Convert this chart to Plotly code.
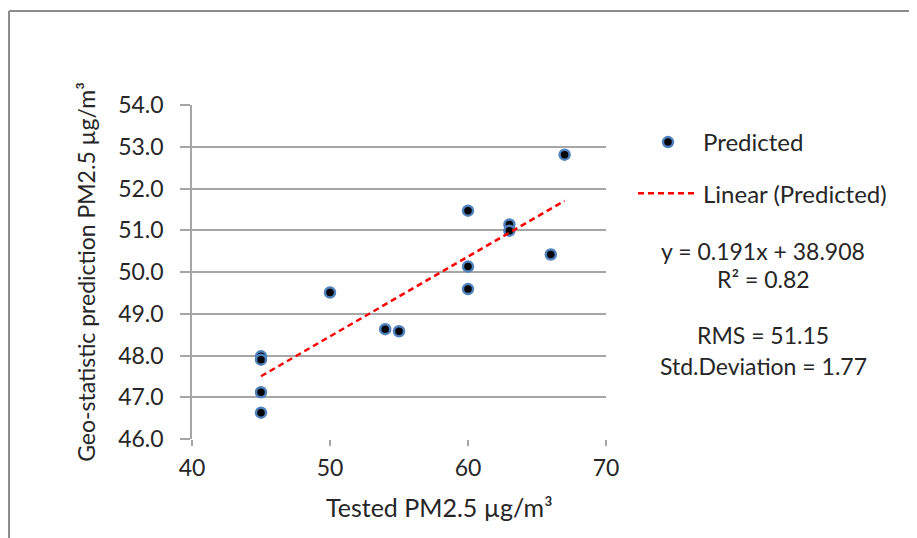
import plotly.graph_objects as go

# Data
tested = [45, 45, 45, 45, 50, 54, 55, 60, 60, 60, 63, 63, 66, 67]
predicted = [47.98, 47.90, 47.12, 46.63, 49.51, 48.63, 48.58, 51.47, 50.13, 49.59, 51.14, 50.99, 50.42, 52.81]
slope = 0.191
intercept = 38.908
trend_x = [min(tested), max(tested)]
trend_y = [slope * x + intercept for x in trend_x]
stats_lines = ["y = 0.191x + 38.908", "R² = 0.82", "RMS = 51.15", "Std.Deviation = 1.77"]
x_ticks = [40, 50, 60, 70]
y_ticks = [46, 47, 48, 49, 50, 51, 52, 53, 54]
x_title = "Tested PM2.5 µg/m³"
y_title = "Geo-statistic prediction PM2.5 µg/m³"

FONT = "Lato, 'Open Sans', sans-serif"
W, H = 917, 538
OFF = 8  # page body margin
L, R, T, B = 184, 319, 97, 107
pw, ph = W - L - R, H - T - B

def sx(px):  # screen px -> paper x
    return (px - OFF - L) / pw

def sy(py):  # screen px -> paper y
    return (H - B - (py - OFF)) / ph

fig = go.Figure()
fig.add_trace(go.Scatter(
    x=tested, y=predicted, mode="markers", name="Predicted",
    marker=dict(color="black", size=10, line=dict(color="#4F81BD", width=2.5)),
    legendgroup="a",
))
fig.add_trace(go.Scatter(
    x=trend_x, y=trend_y, mode="lines", name="Linear (Predicted)",
    line=dict(color="#FF0000", width=2.5, dash="6px,4px"),
    legendgroup="b",
))

ann_y = [251, 279, 335, 366]
for txt, py in zip(stats_lines, ann_y):
    fig.add_annotation(
        x=sx(763), y=sy(py), xref="paper", yref="paper",
        text=txt, showarrow=False, xanchor="center", yanchor="middle",
        font=dict(family=FONT, size=23, color="#262626"),
    )

# x-axis title (offset right of the plot centre, as in the reference)
fig.add_annotation(
    x=sx(439), y=sy(507), xref="paper", yref="paper",
    text=x_title, showarrow=False, xanchor="center", yanchor="middle",
    font=dict(family=FONT, size=25, color="#262626"),
)

# outer chart frame (top and left edges visible)
fig.add_shape(type="line", xref="paper", yref="paper",
              x0=sx(9), x1=sx(1000), y0=sy(11), y1=sy(11),
              line=dict(color="#8c8c8c", width=2))
fig.add_shape(type="line", xref="paper", yref="paper",
              x0=sx(9), x1=sx(9), y0=sy(11), y1=sy(600),
              line=dict(color="#8c8c8c", width=2))

fig.update_layout(
    width=W, height=H,
    margin=dict(l=L, r=R, t=T, b=B, autoexpand=False),
    paper_bgcolor="white", plot_bgcolor="white",
    font=dict(family=FONT, size=22, color="#262626"),
    legend=dict(
        x=sx(633), y=sy(120), xanchor="left", yanchor="top",
        font=dict(family=FONT, size=24, color="#262626"),
        tracegroupgap=17, bgcolor="rgba(0,0,0,0)", itemwidth=60,
    ),
    showlegend=True,
)
fig.update_xaxes(
    range=[40, 70], tickvals=x_ticks, ticktext=[str(v) for v in x_ticks],
    showgrid=False, zeroline=False, showline=False,
    ticks="outside", ticklen=6, tickcolor="#a6a6a6", tickwidth=1.5,
    tickfont=dict(size=23), ticklabelstandoff=2,
)
fig.update_yaxes(
    range=[46, 54], tickvals=y_ticks, ticktext=[f"{v:.1f}" for v in y_ticks],
    showgrid=True, gridcolor="#a6a6a6", gridwidth=1.5, zeroline=False,
    showline=True, linecolor="#a6a6a6", linewidth=1.5,
    ticks="outside", ticklen=10, tickcolor="#a6a6a6", tickwidth=1.5,
    tickfont=dict(size=23), ticklabelstandoff=12,
    title=dict(text=y_title, font=dict(size=23), standoff=16),
)

fig.write_html("out.html")
